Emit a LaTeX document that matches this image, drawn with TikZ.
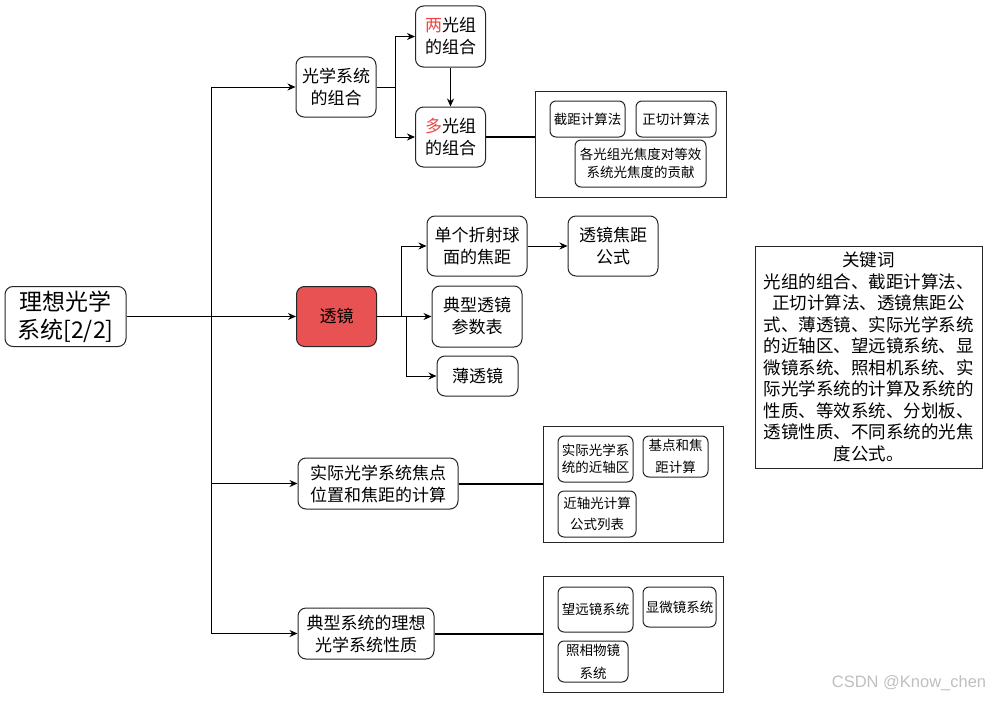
\documentclass[tikz,border=0pt]{standalone}
\usepackage{fontspec}
\setmainfont{Noto Sans CJK SC}
\newfontfamily\wmfont{Liberation Sans}
\usepackage{xcolor}
\usepackage{tikz}
\usetikzlibrary{arrows.meta, positioning, calc}
\definecolor{lensred}{HTML}{E85252}
\definecolor{hired}{HTML}{F04545}

\begin{document}
\begin{tikzpicture}[x=1pt, y=-1pt, line width=1pt,
  box/.style={draw=black!85, rounded corners=8pt, align=center, inner sep=0pt, fill=white,
    font=\fontsize{17}{22}\selectfont},
  sbox/.style={draw=black!85, rounded corners=6pt, align=center, inner sep=0pt, fill=white,
    font=\fontsize{13.5}{19}\selectfont},
  frame/.style={draw=black!85, inner sep=0pt},
  arr/.style={-{Stealth[length=8pt,width=7pt]}},
  link/.style={line width=2pt}]
  \useasboundingbox (0,0) rectangle (995,701);
  % trunk x = 211, lens branches at 400 / 405
  \coordinate (trunk) at (211,0);
  \coordinate (fork) at (395,0);
  % root
  \node[box, minimum width=121pt, minimum height=60pt, font=\fontsize{23}{28}\selectfont] (root) at (65.5,316.5) {理想光学\\系统[2/2]};
  % first level
  \node[box, minimum width=80pt, minimum height=60pt] (sys) at (336,87) {光学系统\\的组合};
  \node[box, minimum width=80pt, minimum height=60pt, fill=lensred] (lens) at (336.5,316.5) {透镜};
  \node[box, minimum width=160pt, minimum height=51pt] (real) at (378,483.5) {实际光学系统焦点\\位置和焦距的计算};
  \node[box, minimum width=136pt, minimum height=51pt] (typ) at (366,633.5) {典型系统的理想\\光学系统性质};
  % lens system combination
  \node[box, minimum width=70pt, minimum height=61pt] (two) at (450.5,36.5) {\textcolor{hired}{两}光组\\的组合};
  \node[box, minimum width=70pt, minimum height=60pt] (multi) at (450.5,137) {\textcolor{hired}{多}光组\\的组合};
  \node[frame, minimum width=191pt, minimum height=106pt] (frameA) at (630.5,144) {};
  \node[sbox, minimum width=75pt, minimum height=36pt] (cut) at (587.5,119) {截距计算法};
  \node[sbox, minimum width=80pt, minimum height=36pt] (tan) at (676,119) {正切计算法};
  \node[sbox, minimum width=131pt, minimum height=47pt, font=\fontsize{13.5}{18}\selectfont] (each) at (640.5,163.5) {各光组光焦度对等效\\系统光焦度的贡献};
  % lens
  \node[box, minimum width=100pt, minimum height=60pt] (single) at (477,246) {单个折射球\\面的焦距};
  \node[box, minimum width=90pt, minimum height=60pt] (focal) at (613,246) {透镜焦距\\公式};
  \node[box, minimum width=90pt, minimum height=61pt] (param) at (477,316.5) {典型透镜\\参数表};
  \node[box, minimum width=81pt, minimum height=40pt] (thin) at (477.5,376) {薄透镜};
  % real systems
  \node[frame, minimum width=180pt, minimum height=116pt] (frameB) at (633,484) {};
  \node[sbox, minimum width=75pt, minimum height=46pt, font=\fontsize{13.5}{17}\selectfont] (para) at (595.5,459) {实际光学系\\统的近轴区};
  \node[sbox, minimum width=65pt, minimum height=41pt, font=\fontsize{13.5}{22}\selectfont] (cardinal) at (675.5,456.5) {基点和焦\\距计算};
  \node[sbox, minimum width=78pt, minimum height=46pt, font=\fontsize{13.5}{21}\selectfont] (paraxial) at (597,514) {近轴光计算\\公式列表};
  % typical systems
  \node[frame, minimum width=180pt, minimum height=116pt] (frameC) at (633,634) {};
  \node[sbox, minimum width=75pt, minimum height=45pt] (tele) at (595.5,609.5) {望远镜系统};
  \node[sbox, minimum width=73pt, minimum height=40pt] (micro) at (679.5,607) {显微镜系统};
  \node[sbox, minimum width=70pt, minimum height=41pt, font=\fontsize{13.5}{23}\selectfont] (camera) at (593,661.5) {照相物镜\\系统};
  % keywords
  \node[frame, minimum width=227pt, minimum height=222pt, align=center, font=\fontsize{17.5}{21.5}\selectfont] (keys) at (868.5,357) {关键词\\光组的组合、截距计算法、\\正切计算法、透镜焦距公\\式、薄透镜、实际光学系统\\的近轴区、望远镜系统、显\\微镜系统、照相机系统、实\\际光学系统的计算及系统的\\性质、等效系统、分划板、\\透镜性质、不同系统的光焦\\度公式。};
  \node[font=\fontsize{16.5}{16.5}\selectfont\wmfont, text=black!25] (mark) at (909,683) {CSDN @Know\_chen};
  % connectors
  \draw (root.east) -- (root.east -| trunk);
  \draw (trunk |- sys.west) -- (trunk |- typ.west);
  \foreach \n in {sys, lens, real, typ}
    \draw[arr] (trunk |- \n.west) -- (\n.west);
  \draw (sys.east) -- (sys.east -| fork);
  \draw (fork |- two.west) -- (fork |- multi.west);
  \foreach \n in {two, multi}
    \draw[arr] (fork |- \n.west) -- (\n.west);
  \draw[arr] (two.south) -- (multi.north);
  \draw[link] (multi.east) -- (multi.east -| frameA.west);
  \draw[arr] (lens.east) -- ++(24,0) |- (single.west);
  \draw[arr] (lens.east) -- (param.west);
  \draw[arr] (lens.east) -- ++(29,0) |- (thin.west);
  \draw[arr] (single.east) -- (focal.west);
  \draw[link] (real.east) -- (real.east -| frameB.west);
  \draw[link] (typ.east) -- (typ.east -| frameC.west);
\end{tikzpicture}
\end{document}
